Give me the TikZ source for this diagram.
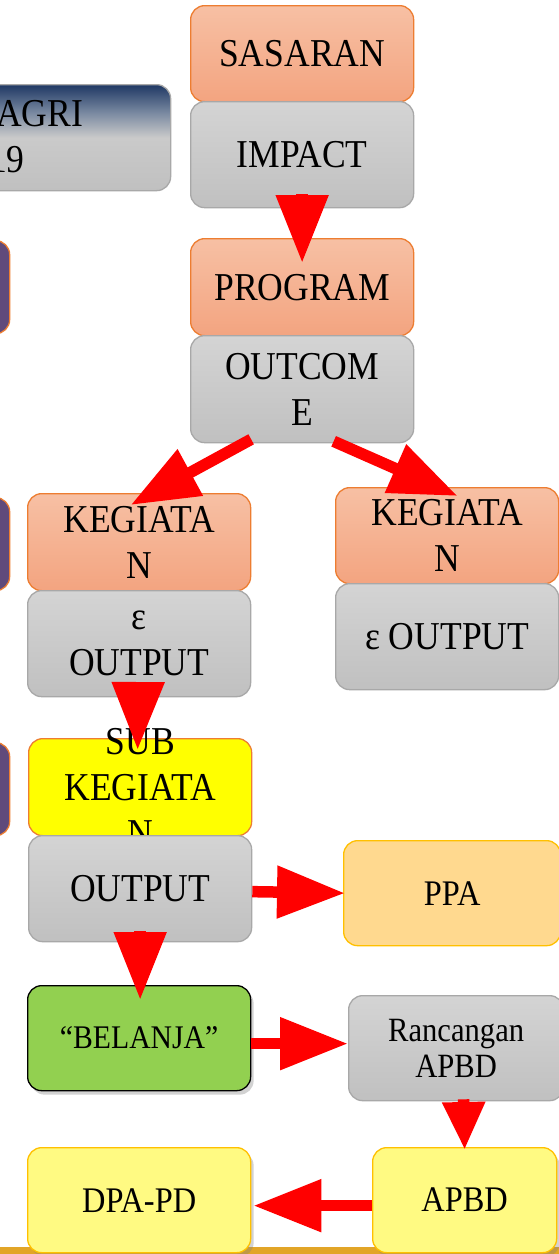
\documentclass[tikz,border=0pt]{standalone}
\usepackage{fontspec}
\setmainfont{Liberation Serif}[FakeStretch=0.9]
\usetikzlibrary{arrows.meta,shadows}

\definecolor{orborder}{RGB}{237,125,49}
\definecolor{orA}{RGB}{247,192,164}
\definecolor{orB}{RGB}{243,164,128}
\definecolor{grborder}{RGB}{168,168,168}
\definecolor{grA}{RGB}{212,212,212}
\definecolor{grB}{RGB}{192,192,192}
\definecolor{agrilo}{RGB}{192,192,192}
\definecolor{agrimid}{RGB}{202,202,202}
\definecolor{agriblue}{RGB}{120,136,160}
\definecolor{agritop}{RGB}{31,56,100}
\definecolor{purplefill}{RGB}{96,74,123}
\definecolor{ppafill}{RGB}{255,217,143}
\definecolor{goldborder}{RGB}{255,192,0}
\definecolor{belanjafill}{RGB}{146,208,80}
\definecolor{paleyellow}{RGB}{255,250,130}
\definecolor{pureyellow}{RGB}{255,255,0}
\definecolor{goldbar}{RGB}{226,165,40}
\definecolor{arrowred}{RGB}{255,0,0}

\pgfdeclareverticalshading{agrishade}{100bp}{color(0bp)=(agrilo); color(25bp)=(agrilo); color(50bp)=(agrimid); color(62bp)=(agriblue); color(75bp)=(agritop); color(100bp)=(agritop)}

\newcommand\bigtext{\fontsize{39.5}{46}\selectfont}
\newcommand\smalltext{\fontsize{36}{40}\selectfont}
\newcommand\rantext{\fontsize{34}{36}\selectfont}
\newcommand\belanjatext{\fontsize{33}{40}\selectfont}

\begin{document}
\begin{tikzpicture}[x=1pt,y=-1pt,
  box/.style={rounded corners=14pt, minimum width=223pt, inner sep=2pt, align=center, anchor=north west, font=\bigtext, line width=1.3pt},
  orangebox/.style={box, draw=orborder, top color=orA, bottom color=orB},
  greybox/.style={box, draw=grborder, top color=grA, bottom color=grB},
  purplebox/.style={box, draw=orborder, fill=purplefill, minimum width=39pt, minimum height=93pt},
  bigarrow/.style={draw=arrowred, color=arrowred, line width=11.5pt, -{Triangle[length=68pt, width=50pt]}},
  smallarrow/.style={draw=arrowred, color=arrowred, line width=11.5pt, -{Triangle[length=48pt, width=40pt]}},
  softshadow/.style={drop shadow={shadow xshift=3pt, shadow yshift=-4pt, opacity=0.35}}
]
\clip (0,0) rectangle (559,1254);
\fill[white] (0,0) rectangle (559,1254);

% gold bar
\fill[goldbar] (0,1247) rectangle (559,1254);

% left column partial boxes
\node[box, draw=grborder, shading=agrishade, minimum width=190pt, minimum height=106pt] (agri) at (-20,84) {};
\node[anchor=west, align=left, font=\bigtext, inner sep=0pt] (agritext) at (-4,137) {AGRI\\\hspace*{-7pt}19};
\node[purplebox] (purpleA) at (-30,240) {};
\node[purplebox] (purpleB) at (-30,497) {};
\node[purplebox] (purpleC) at (-30,742) {};

% top column
\node[orangebox, minimum height=96pt] (sasaran) at (190,5) {SASARAN};
\node[greybox, minimum height=106pt] (impact) at (190,101) {IMPACT};
\node[orangebox, minimum height=97pt] (program) at (190,238) {PROGRAM};
\node[greybox, minimum height=107pt] (outcome) at (190,335) {OUTCOM\\E};

% kegiatan
\node[orangebox, minimum height=97pt] (kegA) at (27,493) {KEGIATA\\N};
\node[greybox, minimum height=106pt] (outA) at (27,590) {ε\\OUTPUT};
\node[orangebox, minimum height=96pt] (kegB) at (335,487) {KEGIATA\\N};
\node[greybox, minimum height=106pt] (outB) at (335,583) {ε OUTPUT};

% sub kegiatan
\node[box, draw=orborder, fill=pureyellow, minimum height=97pt,
  label={[name=subtext, align=center, font=\bigtext, inner sep=0pt]center:{SUB\\KEGIATA\\N}}] (sub) at (28,738) {};
\node[greybox, minimum height=106pt] (output) at (28,835) {OUTPUT};
\node[box, draw=goldborder, fill=ppafill, minimum width=217pt, minimum height=105pt, font=\smalltext] (ppa) at (343,840) {PPA};

% belanja and budget
\node[box, draw=black, fill=belanjafill, minimum height=105pt, font=\belanjatext, softshadow] (belanja) at (27,985) {“BELANJA”};
\node[greybox, minimum width=215pt, minimum height=105pt, font=\rantext] (ranc) at (348,995) {Rancangan\\APBD};
\node[box, draw=goldborder, fill=paleyellow, minimum height=105pt, font=\smalltext, softshadow] (dpa) at (27,1147) {DPA-PD};
\node[box, draw=goldborder, fill=paleyellow, minimum width=184pt, minimum height=105pt, font=\smalltext, softshadow] (apbd) at (372,1147) {APBD};

% arrows
\draw[bigarrow] ([yshift=14pt]impact.south) -- ([yshift=-25pt]program.north);
\draw[bigarrow] ([xshift=-51pt,yshift=4pt]outcome.south) -- ([xshift=-8.5pt,yshift=-12pt]kegA.north);
\draw[bigarrow] ([xshift=31.5pt,yshift=2pt]outcome.south) -- ([xshift=10.5pt,yshift=-9pt]kegB.north);
\draw[bigarrow] ([xshift=-1pt,yshift=15pt]outA.south) -- ([xshift=-2.5pt,yshift=-12pt]sub.north);
\draw[bigarrow] ([yshift=-3pt]output.east) -- ([xshift=2pt]ppa.west);
\draw[bigarrow] ([yshift=11pt]output.south) -- ([xshift=1pt,yshift=-15pt]belanja.north);
\draw[bigarrow] ([yshift=-5.5pt]belanja.east) -- ([yshift=4.5pt]ranc.west);
\draw[smallarrow] ([xshift=7.5pt,yshift=2pt]ranc.south) -- ([yshift=-3pt]apbd.north);
\draw[bigarrow] ([yshift=-5.5pt]apbd.west) -- ([xshift=2pt,yshift=-5.5pt]dpa.east);
\end{tikzpicture}
\end{document}
